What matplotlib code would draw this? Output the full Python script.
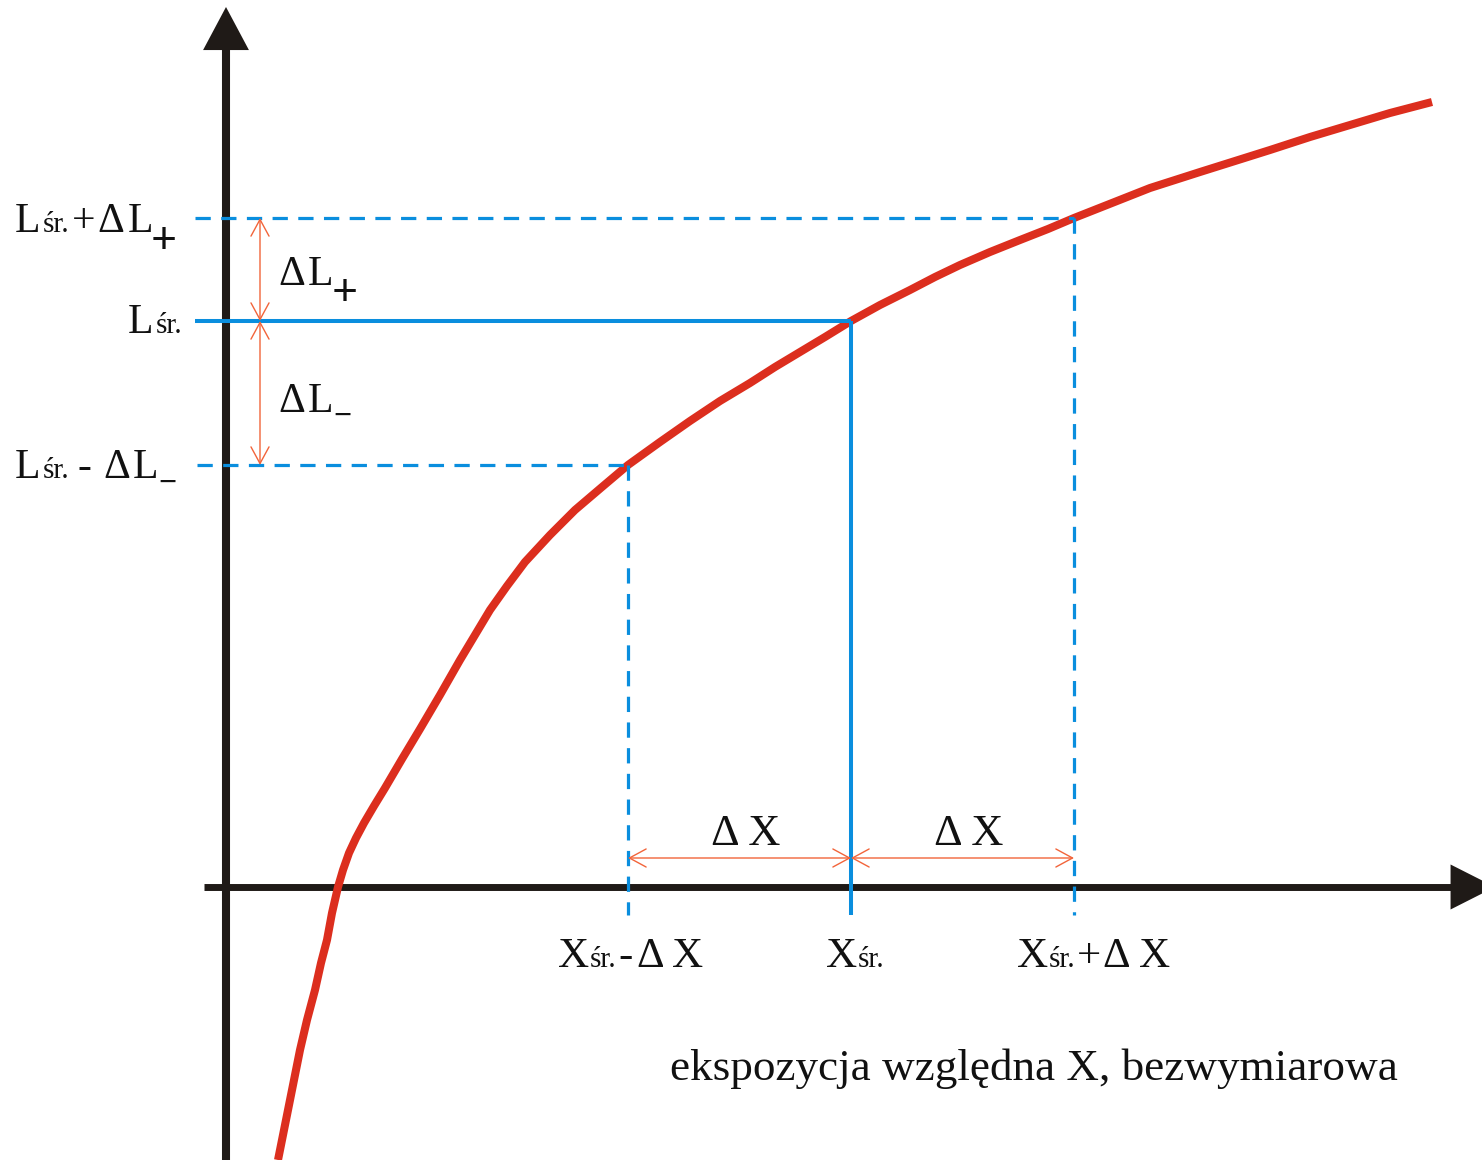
import matplotlib
matplotlib.use("Agg")
import matplotlib.pyplot as plt

plt.rcParams["lines.scale_dashes"] = False

# Characteristic curve: relative exposure X vs. luminance L (arbitrary units)
curve_x = [0.52, 0.57, 0.61, 0.67, 0.74, 0.81, 0.89, 0.95, 1.01, 1.06, 1.12,
           1.17, 1.23, 1.30, 1.38, 1.48, 1.59, 1.76, 1.94, 2.14, 2.34,
           2.49, 2.64, 2.81, 2.99, 3.24, 3.49, 3.76, 4.02, 4.34, 4.64, 4.94,
           5.24, 5.49, 5.74, 5.99, 6.25, 6.54, 6.84, 7.09, 7.34, 7.64, 7.94,
           8.22, 8.48, 8.86, 9.24, 9.49, 9.74, 10.09, 10.44, 10.84, 11.24,
           11.64, 12.06]
curve_y = [-2.73, -2.48, -2.28, -1.98, -1.63, -1.33, -1.03, -0.76, -0.53, -0.26, 0.00,
           0.17, 0.34, 0.49, 0.64, 0.81, 0.99, 1.28, 1.58, 1.92, 2.27,
           2.52, 2.77, 3.01, 3.25, 3.52, 3.77, 4.00, 4.22, 4.45, 4.66, 4.86,
           5.04, 5.20, 5.35, 5.50, 5.66, 5.82, 5.97, 6.10, 6.22, 6.35, 6.47,
           6.58, 6.69, 6.84, 6.99, 7.07, 7.15, 7.26, 7.37, 7.50, 7.62,
           7.74, 7.85]

# Working point and its spread
x_center = 6.25
delta_x = 2.23
L_center = 5.66
L_plus = 6.69
L_minus = 4.22

x_lo = x_center - delta_x
x_hi = x_center + delta_x

INK = "#1f1a17"
RED = "#dc2e1e"
BLUE = "#0a8ede"
ORANGE = "#f2643a"
TXT = "#111111"
SERIF = ["Liberation Serif", "DejaVu Serif"]

fig = plt.figure(figsize=(14.82, 11.6), dpi=100)
ax = fig.add_axes([0, 0, 1, 1])
ax.set_xlim(-2.26, 12.56)
ax.set_ylim(-2.73, 8.87)
ax.axis("off")

# Axes: thick shafts plus sharp filled arrow heads
ax.plot([0, 0], [-3.0, 8.40], color=INK, lw=5.8, solid_capstyle="butt", zorder=1)
ax.plot([-0.22, 12.26], [0, 0], color=INK, lw=5.0, solid_capstyle="butt", zorder=1)
head = dict(mutation_scale=1, lw=0, color=INK, shrinkA=0, shrinkB=0)
ax.annotate("", xy=(0, 8.80), xytext=(0, 8.30), annotation_clip=False,
            arrowprops=dict(arrowstyle="-|>,head_length=31,head_width=16.5", **head),
            zorder=1)
ax.annotate("", xy=(12.69, 0), xytext=(12.10, 0), annotation_clip=False,
            arrowprops=dict(arrowstyle="-|>,head_length=32,head_width=16.2", **head),
            zorder=1)

# Curve
ax.plot(curve_x, curve_y, color=RED, lw=5.8, solid_capstyle="butt",
        solid_joinstyle="round", zorder=2)

# Working-point guides
y_stub = -0.28
x_stub = -0.31
ax.plot([x_stub, x_center], [L_center, L_center], color=BLUE, lw=2.9, zorder=3,
        solid_capstyle="butt")
ax.plot([x_center, x_center], [L_center, y_stub], color=BLUE, lw=2.9, zorder=3,
        solid_capstyle="butt")
dash = dict(color=BLUE, lw=2.3, dashes=(11, 7.5), zorder=3)
ax.plot([x_stub, x_hi], [L_plus, L_plus], **dash)
ax.plot([x_hi, x_hi], [L_plus, y_stub], **dash)
ax.plot([x_stub + 0.02, x_lo], [L_minus, L_minus], **dash)
ax.plot([x_lo, x_lo], [L_minus, y_stub], **dash)

# Dimension arrows
dim = dict(arrowstyle="<->,head_length=12,head_width=6.5", mutation_scale=1,
           lw=1.0, color=ORANGE, shrinkA=0, shrinkB=0)
x_dim = 0.34
y_dim = 0.29
ax.annotate("", xy=(x_dim, L_plus), xytext=(x_dim, L_center), arrowprops=dim, zorder=4)
ax.annotate("", xy=(x_dim, L_center), xytext=(x_dim, L_minus), arrowprops=dim, zorder=4)
ax.annotate("", xy=(x_lo, y_dim), xytext=(x_center, y_dim), arrowprops=dim, zorder=4)
ax.annotate("", xy=(x_center, y_dim), xytext=(x_hi, y_dim), arrowprops=dim, zorder=4)

renderer = fig.canvas.get_renderer()


def text_run(x, y, pieces, dx, dy):
    """Write a sequence of text pieces along one baseline, starting at an
    offset (in pixels) from the data point (x, y)."""
    off = dx
    for s, size, ddy, gap, weight in pieces:
        t = ax.annotate(s, (x, y), xytext=(off, dy + ddy),
                        textcoords="offset pixels", fontsize=size,
                        fontweight=weight, family=SERIF, color=TXT,
                        ha="left", va="baseline", zorder=5)
        off += t.get_window_extent(renderer).width + gap


BIG = 30
SMALL = 21
SUB = 33
N = "normal"
B = "bold"

# Labels on the L axis
text_run(0, L_plus, [("L", BIG, 0, 2, N), ("śr.", SMALL, 0, 3, N),
                     ("+", BIG, 0, 2, N), ("Δ", BIG, 0, 3, N),
                     ("L", BIG, 0, -2, N), ("+", SUB, -22, 0, B)], -211, -14)
text_run(0, L_center, [("L", BIG, 0, 2, N), ("śr.", SMALL, 0, 0, N)], -98, -12)
text_run(0, L_minus, [("L", BIG, 0, 2, N), ("śr.", SMALL, 0, 8, N),
                      ("-", BIG, 0, 12, N), ("Δ", BIG, 0, 3, N),
                      ("L", BIG, 0, 0, N), ("−", 23, -14, 0, B)], -211, -13)
text_run(0, (L_plus + L_center) / 2,
         [("Δ", BIG, 0, 3, N), ("L", BIG, 0, -2, N), ("+", SUB, -21, 0, B)], 52, -16)
text_run(0, (L_center + L_minus) / 2,
         [("Δ", BIG, 0, 3, N), ("L", BIG, 0, 0, N), ("−", 23, -13, 0, B)], 52, -19)

# Spread labels above the X axis
for xa, xb in [(x_lo, x_center), (x_center, x_hi)]:
    ax.annotate("Δ X", ((xa + xb) / 2, 0), xytext=(6, 42),
                textcoords="offset pixels", fontsize=32, family=SERIF,
                color=TXT, ha="center", va="baseline", zorder=5)

# Labels on the X axis
XS = 31
text_run(x_lo, 0, [("X", XS, 0, 1, N), ("śr.", SMALL, 0, 2, N),
                   ("-", XS, 0, 3, N), ("Δ", XS, 0, 8, N), ("X", XS, 0, 0, N)], -70, -80)
text_run(x_center, 0, [("X", XS, 0, 1, N), ("śr.", SMALL, 0, 0, N)], -25, -80)
text_run(x_hi, 0, [("X", XS, 0, 1, N), ("śr.", SMALL, 0, 1, N),
                   ("+", XS, 0, 1, N), ("Δ", XS, 0, 9, N), ("X", XS, 0, 0, N)], -57, -80)

# Axis title
fig.text(670 / 1482, 1 - 1080 / 1160, "ekspozycja względna X, bezwymiarowa",
         fontsize=32.5, family=SERIF, color=TXT, ha="left", va="baseline")

fig.savefig("out.png", dpi=100, facecolor="white")
